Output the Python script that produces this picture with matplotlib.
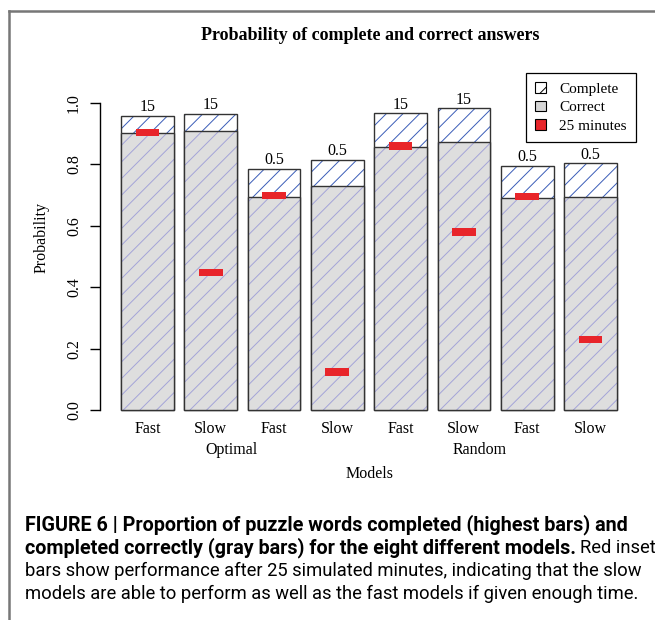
import matplotlib
matplotlib.use("Agg")
import matplotlib.pyplot as plt
from matplotlib.patches import Patch
from matplotlib.lines import Line2D
import numpy as np

# data
speeds = ["Fast", "Slow", "Fast", "Slow", "Fast", "Slow", "Fast", "Slow"]
groups = ["Optimal", "Random"]
group_pos = [2.3, 7.0]
complete = [0.958, 0.964, 0.785, 0.814, 0.967, 0.983, 0.795, 0.804]
correct = [0.902, 0.909, 0.694, 0.730, 0.857, 0.873, 0.690, 0.694]
after25 = [0.905, 0.449, 0.700, 0.124, 0.860, 0.580, 0.694, 0.231]
top_labels = ["15", "15", "0.5", "0.5", "15", "15", "0.5", "0.5"]

serif = ["Liberation Serif", "DejaVu Serif"]
cap_font = ["Liberation Sans Narrow", "Roboto", "DejaVu Sans"]

W, H = 655, 620
fig = plt.figure(figsize=(W / 100, H / 100), dpi=100)
plt.rcParams["hatch.linewidth"] = 0.7

# frame around the figure panel
fig.add_artist(Line2D([9 / W, 1], [1 - 11 / H, 1 - 11 / H], color="#777777", lw=1.8))
fig.add_artist(Line2D([9 / W, 9 / W], [0, 1 - 11 / H], color="#777777", lw=1.8))

ax = fig.add_axes([100 / W, (H - 415) / H, 540 / W, 355 / H])
x = np.arange(len(complete)) * 1.2 + 0.7
ax.set_xlim(-0.2, 10.04)
ax.set_ylim(-0.016, 1.14)

bw = 1.0
edge = "#333333"
# complete bars: white with blue hatch
ax.bar(x, complete, width=bw, color="white", edgecolor="#3a5cb8", hatch="//", linewidth=0)
ax.bar(x, complete, width=bw, fill=False, edgecolor=edge, linewidth=1.0)
# correct bars: gray with lighter hatch
ax.bar(x, correct, width=bw, color="#dedede", edgecolor="#a4a4d8", hatch="//", linewidth=0)
ax.bar(x, correct, width=bw, fill=False, edgecolor=edge, linewidth=1.0)
# red inset bars
rh = 0.023
ax.bar(x, [rh] * len(after25), width=0.45, bottom=[v - rh / 2 for v in after25],
       color="#e8252a", linewidth=0)

for xi, c, lab in zip(x, complete, top_labels):
    ax.text(xi, c + 0.002, lab, ha="center", va="bottom", fontsize=11.5, family=serif)

for s in ["top", "right", "bottom"]:
    ax.spines[s].set_visible(False)
ax.spines["left"].set_bounds(0, 1)
ax.spines["left"].set_linewidth(1.0)
ax.set_yticks([0, 0.2, 0.4, 0.6, 0.8, 1.0])
ax.set_yticklabels(["0.0", "0.2", "0.4", "0.6", "0.8", "1.0"], rotation=90,
                   va="center", family=serif, fontsize=11.5)
ax.tick_params(axis="y", length=7, width=1.0, pad=6)
ax.set_xticks(x)
ax.set_xticklabels(speeds, family=serif, fontsize=11.5)
ax.tick_params(axis="x", length=0, pad=4)

for gp, g in zip(group_pos, groups):
    ax.text(gp, -0.13, g, ha="center", va="center", family=serif, fontsize=11.5)
ax.text(0.5, -0.165, "Models", transform=ax.transAxes, ha="center", va="center",
        family=serif, fontsize=11.5)
ax.set_ylabel("Probability", family=serif, fontsize=11.5, labelpad=12)

fig.text(370 / W, 1 - 35 / H, "Probability of complete and correct answers",
         ha="center", va="center", family=serif, fontsize=13, fontweight="bold")

handles = [
    Patch(facecolor="white", edgecolor="black", hatch="/", linewidth=0.8),
    Patch(facecolor="#d6d6d6", edgecolor="black", linewidth=0.8),
    Patch(facecolor="#e8252a", edgecolor="black", linewidth=0.8),
]
leg = fig.legend(handles, ["Complete", "Correct", "25 minutes"],
                 loc="upper right", bbox_to_anchor=(636 / W, 1 - 73 / H),
                 borderaxespad=0,
                 frameon=True, fancybox=False, edgecolor="black", framealpha=1,
                 handlelength=0.7, handleheight=0.7, handletextpad=0.9,
                 borderpad=0.6, labelspacing=0.32,
                 prop={"family": serif, "size": 11})
leg.get_frame().set_linewidth(0.9)

# caption
bs = 14.2
ns = 13.2
fig.text(25 / W, 1 - 525 / H,
         "FIGURE 6 | Proportion of puzzle words completed (highest bars) and",
         ha="left", va="center", family=cap_font, fontsize=bs, fontweight="bold")
t1 = fig.text(25 / W, 1 - 548 / H,
              "completed correctly (gray bars) for the eight different models.",
              ha="left", va="center", family=cap_font, fontsize=bs, fontweight="bold")
fig.canvas.draw()
bb = t1.get_window_extent(renderer=fig.canvas.get_renderer())
fig.text(bb.x1 / W + 4 / W, 1 - 548 / H, "Red inset",
         ha="left", va="center", family=cap_font, fontsize=ns)
fig.text(25 / W, 1 - 571 / H,
         "bars show performance after 25 simulated minutes, indicating that the slow",
         ha="left", va="center", family=cap_font, fontsize=ns)
fig.text(25 / W, 1 - 594 / H,
         "models are able to perform as well as the fast models if given enough time.",
         ha="left", va="center", family=cap_font, fontsize=ns)

fig.savefig("out.png", dpi=100)
